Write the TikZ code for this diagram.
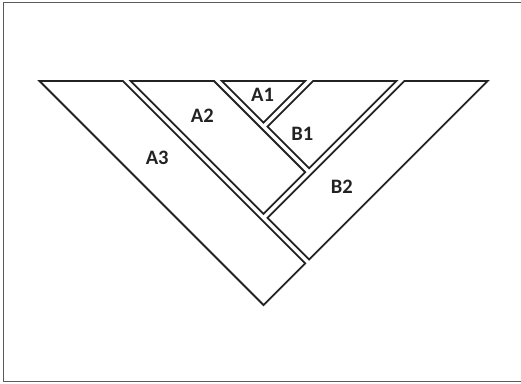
\documentclass[tikz,border=0pt]{standalone}
\usepackage{fontspec}
\setsansfont{Carlito}
\usetikzlibrary{positioning}
\definecolor{cutInk}{HTML}{222222}
\definecolor{frameInk}{HTML}{5A5A5A}
\tikzset{
  cut/piece/.style={draw=cutInk, line width=1.8pt, line join=miter},
  cut/frame/.style={draw=frameInk, line width=1.3pt},
  cut/tag/.style={font=\sffamily\bfseries\fontsize{20.5}{22}\selectfont,
    text=cutInk, inner sep=0pt, anchor=center},
}

\begin{document}
\begin{tikzpicture}[x=1pt, y=-1pt]
\useasboundingbox (0,0) rectangle (521,383);
% page frame (right side runs off the page)
\draw[cut/frame] (523,2.3) -- (3.3,2.3) -- (3.3,381.5) -- (523,381.5);
% left-hand bands
\draw[cut/piece] (39.5,81) -- (122.8,81) -- (305.2,263.4) -- (263.55,305.05) -- cycle;
\draw[cut/piece] (130.7,81) -- (214.0,81) -- (305.2,172.2) -- (263.55,213.85) -- cycle;
\draw[cut/piece] (221.9,81) -- (305.2,81) -- (263.55,122.65) -- cycle;
% right-hand bands
\draw[cut/piece] (313.1,81) -- (396.4,81) -- (309.15,168.25) -- (267.5,126.6) -- cycle;
\draw[cut/piece] (404.3,81) -- (487.6,81) -- (309.15,259.45) -- (267.5,217.8) -- cycle;
% labels
\node[cut/tag] (a1) at (262.5,95) {A1};
\node[cut/tag] (a2) at (202.3,115.8) {A2};
\node[cut/tag] (a3) at (157.2,158.3) {A3};
\node[cut/tag] (b1) at (302.2,133.5) {B1};
\node[cut/tag] (b2) at (341.7,186.7) {B2};
\end{tikzpicture}
\end{document}
